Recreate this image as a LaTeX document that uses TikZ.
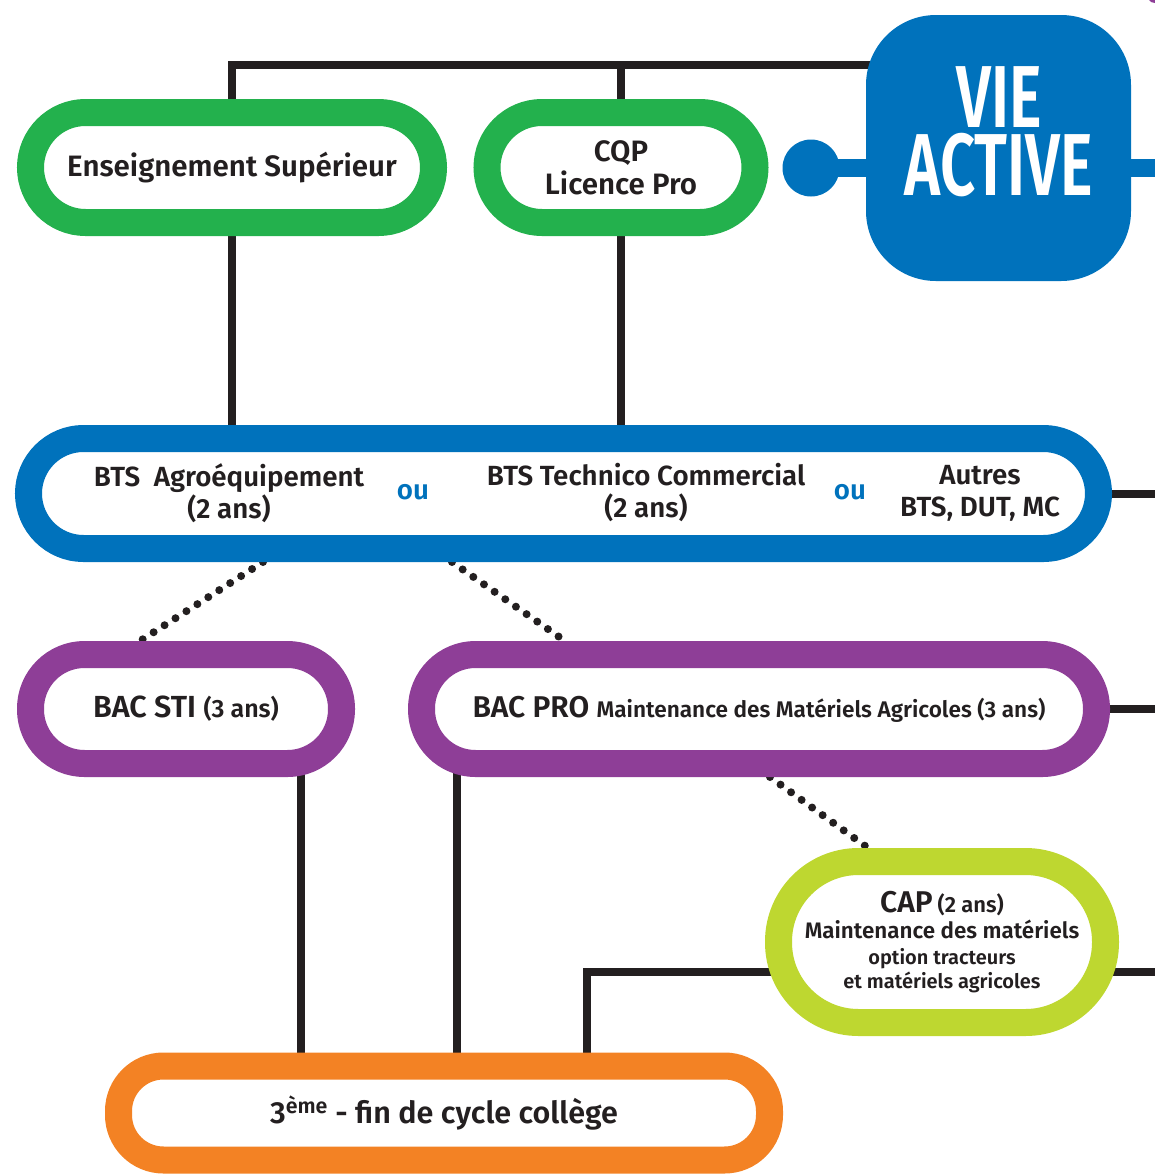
\documentclass[tikz,border=0pt]{standalone}
\usepackage{fontspec}
\setmainfont{Fira Sans}[BoldFont={Fira Sans SemiBold}]
\usetikzlibrary{backgrounds}
\definecolor{supgreen}{RGB}{35,177,77}
\definecolor{btsblue}{RGB}{0,114,188}
\definecolor{bacpurple}{RGB}{142,62,151}
\definecolor{caplime}{RGB}{190,215,48}
\definecolor{colorange}{RGB}{243,130,36}
\definecolor{ink}{RGB}{35,31,32}
\tikzstyle{link} = [draw=ink, line width=8pt]
\tikzstyle{dots} = [draw=ink, line width=8pt, line cap=round, dash pattern=on 0pt off 13pt]

\begin{document}
\begin{tikzpicture}
		[
		x=1pt, y=-1pt,
		pill/.style={
		draw,
		rectangle,
		fill=white,
		line width=27pt,
		rounded corners=55pt,
		inner sep=0pt,
		align=center,
		text=ink,
		font=\bfseries\fontsize{29.5}{33}\selectfont},
		txt/.style={
		inner sep=0pt,
		align=center,
		text=ink,
		font=\bfseries\fontsize{27.7}{32}\selectfont},
		vie/.style={
		text=white,
		inner sep=0pt,
		anchor=base,
		text height=60pt,
		text depth=0pt,
		xscale=0.7,
		font=\bfseries\fontsize{88}{88}\selectfont}
		]
		\useasboundingbox (0,0) rectangle (1155,1176);
		\coordinate (edge) at (1160,0);
		% top row
		\node[pill,draw=supgreen,minimum width=403pt,minimum height=110pt](sup) at (232,167.5) {Enseignement Supérieur};
		\node[pill,draw=supgreen,minimum width=268pt,minimum height=110pt](cqp) at (621,167.5) {CQP\\Licence Pro};
		\node[fill=btsblue,rectangle,rounded corners=70pt,minimum width=265pt,minimum height=266pt](vie) at (998.5,148) {};
		\node[fill=btsblue,circle,minimum size=57pt,inner sep=0pt](dot) at (811,168) {};
		\node[vie](vie1) at (999,127) {VIE};
		\node[vie](vie2) at (999,195) {ACTIVE};
		% BTS
		\node[pill,draw=btsblue,minimum width=1070pt,minimum height=110pt](bts) at (563.5,493.5) {};
		\node[txt](btsagro) at (229,493) {BTS\ \ Agroéquipement\\(2 ans)};
		\node[txt,text=btsblue](ou1) at (413,492) {ou};
		\node[txt](btstc) at (646,493) {BTS Technico Commercial\\(2 ans)};
		\node[txt,text=btsblue](ou2) at (850,492) {ou};
		\node[txt](autres) at (980,493) {Autres\\BTS, DUT, MC};
		% BAC
		\node[pill,draw=bacpurple,minimum width=311pt,minimum height=109pt,rounded corners=54pt](sti) at (186,709) {\fontsize{30.5}{33}\selectfont BAC STI {\fontsize{25}{28}\selectfont (3 ans)}};
		\node[pill,draw=bacpurple,minimum width=675pt,minimum height=109pt,rounded corners=54pt](pro) at (759,709) {\fontsize{30}{33}\selectfont BAC PRO {\fontsize{22.6}{28}\selectfont Maintenance des Matériels Agricoles (3 ans)}};
		% CAP
		\node[pill,draw=caplime,minimum width=327pt,minimum height=161pt,rounded corners=80pt,font=\bfseries\fontsize{20}{24}\selectfont](cap) at (942,942)
		{{\fontsize{30}{30}\selectfont CAP} {\fontsize{22}{24}\selectfont (2 ans)}\\[2pt]{\fontsize{22.4}{24}\selectfont Maintenance des matériels}\\[2pt]option tracteurs\\et matériels agricoles};
		% college
		\node[pill,draw=colorange,minimum width=651pt,minimum height=94pt,rounded corners=45pt,font=\bfseries\fontsize{30.5}{33}\selectfont](col) at (444,1113) {3\textsuperscript{ème} - fin de cycle collège};
		\fill[bacpurple] (1149,0) -- (1155,0) -- (1155,3) -- (1151,2) -- cycle;
		\begin{scope}[on background layer]
		\draw[link] (sup.center) |- (vie.center |- 0,65);
		\draw[link] (cqp.center) -- (cqp.center |- 0,65);
		\draw[link] (sup.center) -- (sup.center |- bts.center);
		\draw[link] (cqp.center) -- (cqp.center |- bts.center);
		\draw[draw=btsblue,line width=18pt] (dot.center) -- (dot.center -| edge);
		\draw[link] (bts.center) -- (bts.center -| edge);
		\draw[link] (pro.center) -- (pro.center -| edge);
		\draw[link] (col.center -| 587,0) |- (edge |- 0,972);
		\draw[link] (sti.center -| 301,0) -- (col.center -| 301,0);
		\draw[link] (pro.center -| 457,0) -- (col.center -| 457,0);
		\draw[dots] (bts.south -| 263,0) -- (sti.north -| 140,0);
		\draw[dots] (bts.south -| 452,0) -- (pro.north -| 565,0);
		\draw[dots] (pro.south -| 770,0) -- (cap.north -| 868,0);
		\end{scope}
		\end{tikzpicture}
\end{document}
